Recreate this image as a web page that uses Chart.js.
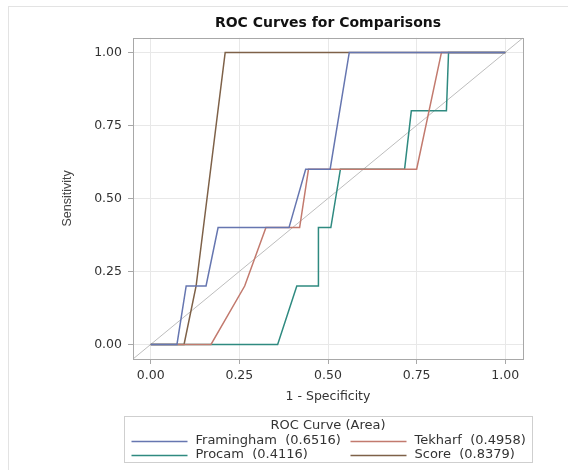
<!DOCTYPE html>
<html>
<head>
<meta charset="utf-8">
<title>ROC Curves for Comparisons</title>
<script src="https://cdn.jsdelivr.net/npm/chart.js@4.4.1/dist/chart.umd.min.js"></script>
<style>
  html, body { margin: 0; padding: 0; background: #fff; }
  #wrap { position: relative; width: 568px; height: 470px; overflow: hidden; }
  #frame {
    position: absolute; left: 8px; top: 6px; width: 600px; height: 500px;
    border-top: 1px solid #e3e3e3; border-left: 1px solid #e3e3e3;
  }
  #chart { position: absolute; left: 0; top: 0; }
</style>
</head>
<body>
<div id="wrap">
  <div id="frame"></div>
  <canvas id="chart" width="568" height="470"></canvas>
</div>
<script>
// --- DATOS ---
const seriesNames = ["Framingham", "Tekharf", "Procam", "Score"];
const seriesAreas = [0.6516, 0.4958, 0.4116, 0.8379];
const seriesColors = ["#6676b0", "#c27a6e", "#2f8a80", "#7e6148"];

// 1 - especificidad (x) y sensibilidad (y) de cada curva
const framinghamFpr = [0, 0.074, 0.10, 0.156, 0.19, 0.39, 0.437, 0.506, 0.56, 1];
const framinghamTpr = [0, 0, 0.2, 0.2, 0.4, 0.4, 0.6, 0.6, 1, 1];

const tekharfFpr = [0, 0.17, 0.265, 0.325, 0.42, 0.445, 0.75, 0.82, 1];
const tekharfTpr = [0, 0, 0.2, 0.4, 0.4, 0.6, 0.6, 1, 1];

const procamFpr = [0, 0.358, 0.412, 0.473, 0.473, 0.508, 0.535, 0.716, 0.735, 0.834, 0.84, 1];
const procamTpr = [0, 0, 0.2, 0.2, 0.4, 0.4, 0.6, 0.6, 0.8, 0.8, 1, 1];

const scoreFpr = [0, 0.094, 0.128, 0.21, 1];
const scoreTpr = [0, 0, 0.2, 1, 1];

const axisTicks = [0, 0.25, 0.5, 0.75, 1];
const axisMin = -0.05;
const axisMax = 1.05;

// --- CONSTRUCCIÓN ---
const curves = [
  [framinghamFpr, framinghamTpr],
  [tekharfFpr, tekharfTpr],
  [procamFpr, procamTpr],
  [scoreFpr, scoreTpr],
];

function toPoints(xs, ys) {
  return xs.map((x, i) => ({ x, y: ys[i] }));
}

const datasets = curves.map(([xs, ys], i) => ({
  label: `${seriesNames[i]}  (${seriesAreas[i].toFixed(4)})`,
  data: toPoints(xs, ys),
  borderColor: seriesColors[i],
  borderWidth: 1.5,
  showLine: true,
  pointRadius: 0,
  tension: 0,
  fill: false,
}));

// Diagonal de referencia (de esquina a esquina)
datasets.push({
  label: "ref",
  data: toPoints([axisMin, axisMax], [axisMin, axisMax]),
  borderColor: "#bdbdbd",
  borderWidth: 1,
  showLine: true,
  pointRadius: 0,
});

const FONT = "'DejaVu Sans', sans-serif";

// Marco completo del área de trazado
const plotFrame = {
  id: "plotFrame",
  afterDatasetsDraw(chart) {
    const { ctx, chartArea: a } = chart;
    ctx.save();
    ctx.strokeStyle = "#a8a8a8";
    ctx.lineWidth = 1;
    ctx.strokeRect(Math.round(a.left) + 0.5, Math.round(a.top) + 0.5,
      Math.round(a.right - a.left), Math.round(a.bottom - a.top));
    ctx.restore();
  },
};

// Leyenda estilo SAS: título + dos columnas dentro de un recuadro
const rocLegend = {
  id: "rocLegend",
  afterDraw(chart) {
    const { ctx, chartArea: a } = chart;
    const cx = (a.left + a.right) / 2;
    const w = 408, h = 46;
    const left = Math.round(cx - w / 2) + 0.5;
    const top = 416.5;

    ctx.save();
    ctx.strokeStyle = "#cfcfcf";
    ctx.lineWidth = 1;
    ctx.strokeRect(left, top, w, h);

    ctx.fillStyle = "#333";
    ctx.font = `13px ${FONT}`;
    ctx.textBaseline = "middle";
    ctx.textAlign = "center";
    ctx.fillText("ROC Curve (Area)", cx, top + 9);

    ctx.textAlign = "left";
    const cols = [left + 7, left + 226];
    const rows = [top + 24, top + 38.5];
    seriesNames.forEach((_, i) => {
      const x = cols[i % 2];
      const y = rows[Math.floor(i / 2)];
      ctx.strokeStyle = seriesColors[i];
      ctx.lineWidth = 1.5;
      ctx.beginPath();
      ctx.moveTo(x, Math.round(y) + 0.5);
      ctx.lineTo(x + 56, Math.round(y) + 0.5);
      ctx.stroke();
      ctx.fillStyle = "#333";
      ctx.fillText(datasets[i].label, x + 64, y);
    });
    ctx.restore();
  },
};

const axisCommon = {
  type: "linear",
  min: axisMin,
  max: axisMax,
  afterBuildTicks: (scale) => {
    scale.ticks = axisTicks.map((v) => ({ value: v }));
  },
  grid: {
    color: "#e8e8e8",
    tickColor: "#a8a8a8",
    tickLength: 5,
  },
  border: { display: false },
};

new Chart(document.getElementById("chart"), {
  type: "scatter",
  data: { datasets },
  options: {
    responsive: false,
    animation: false,
    layout: { padding: { left: 0, right: 45, top: 0, bottom: 61 } },
    plugins: {
      legend: { display: false },
      tooltip: { enabled: false },
      title: {
        display: true,
        fullSize: false,
        text: "ROC Curves for Comparisons",
        color: "#111",
        font: { family: FONT, size: 14, weight: "bold" },
        padding: { top: 15, bottom: 6 },
      },
    },
    scales: {
      x: {
        ...axisCommon,
        afterFit: (scale) => { scale.height = 50; },
        ticks: {
          color: "#333",
          padding: 4,
          font: { family: FONT, size: 12.5 },
          maxRotation: 0,
          callback: (v) => Number(v).toFixed(2),
        },
        title: {
          display: true,
          text: "1 - Specificity",
          color: "#333",
          font: { family: FONT, size: 12.5 },
          padding: { top: 0, bottom: 5 },
        },
      },
      y: {
        ...axisCommon,
        afterFit: (scale) => { scale.width = 133; },
        ticks: {
          color: "#333",
          padding: 6,
          font: { family: FONT, size: 12.5 },
          callback: (v) => Number(v).toFixed(2),
        },
        title: {
          display: true,
          text: "Sensitivity",
          color: "#444",
          font: { family: "'Liberation Sans', Arial, sans-serif", size: 12.5 },
          padding: { top: 60, bottom: 0 },
        },
      },
    },
  },
  plugins: [plotFrame, rocLegend],
});
</script>
</body>
</html>
